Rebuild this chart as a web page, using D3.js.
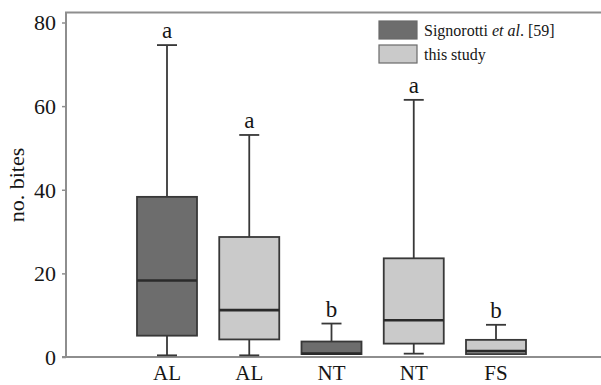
<!DOCTYPE html>
<html>
<head>
<meta charset="utf-8">
<script src="https://cdn.jsdelivr.net/npm/d3@7"></script>
<style>
  body { margin: 0; background: #fff; }
  svg text { font-family: "Liberation Serif", "Times New Roman", serif; }
</style>
</head>
<body>
<svg id="chart" width="601" height="385"></svg>
<script>
// categories / series
const groups = ['AL', 'AL', 'NT', 'NT', 'FS'];
const study = ['sig', 'this', 'sig', 'this', 'this'];
const whiskLow = [0.4, 0.4, 0.7, 0.8, 0.7];
const q1 = [5.1, 4.2, 0.7, 3.2, 0.7];
const median = [18.3, 11.2, 0.8, 8.8, 1.4];
const q3 = [38.3, 28.7, 3.7, 23.6, 4.1];
const whiskHigh = [74.6, 53.1, 8.0, 61.5, 7.7];
const letters = ['a', 'a', 'b', 'a', 'b'];
const yTicks = [0, 20, 40, 60, 80];

const colors = { sig: '#6d6d6d', this: '#cacaca' };

const svg = d3.select('#chart');
const boxW = 60, capW = 20;

const x = d3.scalePoint().domain(d3.range(groups.length)).range([167, 496]);
const y = d3.scaleLinear().domain([0, 80]).range([357, 22.5]);

const axisCol = '#8e8e8e';
const textCol = '#161616';

// frame: left, top, bottom
svg.append('line').attr('x1', 66).attr('x2', 66).attr('y1', 12.5).attr('y2', y(0))
  .attr('stroke', axisCol).attr('stroke-width', 2);
svg.append('line').attr('x1', 65).attr('x2', 601).attr('y1', 12.5).attr('y2', 12.5)
  .attr('stroke', axisCol).attr('stroke-width', 2);
svg.append('line').attr('x1', 62).attr('x2', 601).attr('y1', y(0)).attr('y2', y(0))
  .attr('stroke', axisCol).attr('stroke-width', 2);

const yAxis = svg.append('g')
  .attr('transform', 'translate(66,0)')
  .call(d3.axisLeft(y).tickValues(yTicks).tickSize(4).tickPadding(6));
yAxis.attr('font-family', null);
yAxis.select('.domain').remove();
yAxis.selectAll('line').attr('stroke', axisCol).attr('stroke-width', 1.5);
yAxis.selectAll('text').attr('font-size', 22).attr('fill', textCol).attr('dy', '0.34em');

svg.append('text')
  .attr('transform', 'translate(24,185) rotate(-90)')
  .attr('text-anchor', 'middle')
  .attr('font-size', 22).attr('fill', textCol)
  .text('no. bites');

// x labels
svg.selectAll('.xlab').data(groups).enter().append('text')
  .attr('class', 'xlab')
  .attr('x', (d, i) => x(i))
  .attr('y', 380)
  .attr('text-anchor', 'middle')
  .attr('font-size', 21).attr('fill', textCol)
  .text(d => d);

const idx = d3.range(groups.length);
const g = svg.append('g');
const stroke = '#383838';

// whiskers
g.selectAll('.wh').data(idx).enter().append('line')
  .attr('x1', i => x(i)).attr('x2', i => x(i))
  .attr('y1', i => y(q3[i])).attr('y2', i => y(whiskHigh[i]))
  .attr('stroke', stroke).attr('stroke-width', 1.8);
g.selectAll('.capH').data(idx).enter().append('line')
  .attr('x1', i => x(i) - capW / 2).attr('x2', i => x(i) + capW / 2)
  .attr('y1', i => y(whiskHigh[i])).attr('y2', i => y(whiskHigh[i]))
  .attr('stroke', stroke).attr('stroke-width', 1.8);
const lowIdx = idx.filter(i => whiskLow[i] < q1[i]);
g.selectAll('.wl').data(lowIdx).enter().append('line')
  .attr('x1', i => x(i)).attr('x2', i => x(i))
  .attr('y1', i => y(q1[i])).attr('y2', i => y(whiskLow[i]))
  .attr('stroke', stroke).attr('stroke-width', 1.8);
g.selectAll('.capL').data(lowIdx).enter().append('line')
  .attr('x1', i => x(i) - capW / 2).attr('x2', i => x(i) + capW / 2)
  .attr('y1', i => y(whiskLow[i])).attr('y2', i => y(whiskLow[i]))
  .attr('stroke', stroke).attr('stroke-width', 1.8);

// boxes
g.selectAll('.box').data(idx).enter().append('rect')
  .attr('x', i => x(i) - boxW / 2)
  .attr('width', boxW)
  .attr('y', i => y(q3[i]))
  .attr('height', i => y(q1[i]) - y(q3[i]))
  .attr('fill', i => colors[study[i]])
  .attr('stroke', stroke).attr('stroke-width', 1.8);
g.selectAll('.med').data(idx).enter().append('line')
  .attr('x1', i => x(i) - boxW / 2).attr('x2', i => x(i) + boxW / 2)
  .attr('y1', i => y(median[i])).attr('y2', i => y(median[i]))
  .attr('stroke', '#2a2a2a').attr('stroke-width', 2.6);

// significance letters
g.selectAll('.let').data(idx).enter().append('text')
  .attr('x', i => x(i))
  .attr('y', i => y(whiskHigh[i]) - 7)
  .attr('text-anchor', 'middle')
  .attr('font-size', 23).attr('fill', textCol)
  .text(i => letters[i]);

// legend
const legend = [
  { key: 'sig', y: 21 },
  { key: 'this', y: 45 }
];
const lg = svg.append('g');
lg.selectAll('rect').data(legend).enter().append('rect')
  .attr('x', 379).attr('y', d => d.y).attr('width', 38).attr('height', 18)
  .attr('fill', d => colors[d.key]).attr('stroke', '#6a6a6a').attr('stroke-width', 1.2);
const t1 = lg.append('text').attr('x', 424).attr('y', 36).attr('font-size', 16).attr('fill', textCol);
t1.append('tspan').text('Signorotti ');
t1.append('tspan').attr('font-style', 'italic').text('et al');
t1.append('tspan').text('. [59]');
lg.append('text').attr('x', 424).attr('y', 60).attr('font-size', 16).attr('fill', textCol)
  .text('this study');
</script>
</body>
</html>
